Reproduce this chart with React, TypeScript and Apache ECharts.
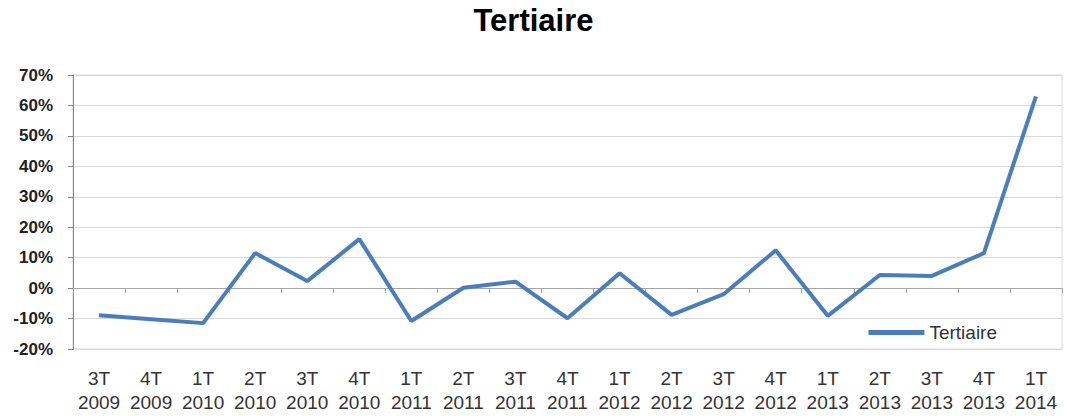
import React, { useEffect, useRef } from "react";
import * as echarts from "echarts";

const categories = [
  "3T\n2009", "4T\n2009", "1T\n2010", "2T\n2010", "3T\n2010", "4T\n2010",
  "1T\n2011", "2T\n2011", "3T\n2011", "4T\n2011", "1T\n2012", "2T\n2012",
  "3T\n2012", "4T\n2012", "1T\n2013", "2T\n2013", "3T\n2013", "4T\n2013", "1T\n2014",
];
const tertiaire = [
  -8.9, -10.2, -11.5, 11.5, 2.3, 16.1, -10.8, 0.1, 2.1, -9.9, 4.9, -8.8,
  -2.0, 12.4, -9.1, 4.3, 4.0, 11.5, 63.0,
];
const seriesName = "Tertiaire";
const titleText = "Tertiaire";

export default function App() {
  const ref = useRef<HTMLDivElement>(null);
  useEffect(() => {
    if (!ref.current) return;
    const chart = echarts.init(ref.current, undefined, { renderer: "svg" });
    chart.setOption({
      animation: false,
      backgroundColor: "#ffffff",
      title: {
        text: titleText,
        left: "center",
        top: 0,
        textStyle: { fontFamily: "Liberation Sans", fontWeight: "bold", fontSize: 31, color: "#000" },
      },
      legend: {
        data: [{ name: seriesName, icon: "rect" }],
        right: 65,
        top: 318,
        itemWidth: 56,
        itemHeight: 5,
        itemGap: 4,
        textStyle: { fontFamily: "Liberation Sans", fontSize: 19, color: "#333" },
      },
      grid: {
        left: 73,
        right: 5,
        top: 75,
        bottom: 67,
        show: true,
        borderColor: "#d9d9d9",
        borderWidth: 1,
      },
      xAxis: [
        {
          type: "category",
          data: categories,
          boundaryGap: true,
          position: "bottom",
          axisLine: { onZero: true, lineStyle: { color: "#a6a6a6", width: 1 } },
          axisTick: { show: true, length: 5, lineStyle: { color: "#a6a6a6" } },
          axisLabel: { show: false },
          splitLine: { show: false },
        },
        {
          type: "category",
          data: categories,
          boundaryGap: true,
          position: "bottom",
          axisLine: { show: false, onZero: false },
          axisTick: { show: false },
          axisLabel: {
            show: true,
            interval: 0,
            margin: 17,
            lineHeight: 24,
            fontFamily: "Liberation Sans",
            fontSize: 19,
            color: "#333",
          },
          splitLine: { show: false },
        },
      ],
      yAxis: {
        type: "value",
        min: -20,
        max: 70,
        interval: 10,
        axisLine: { show: true, lineStyle: { color: "#868686" } },
        axisTick: { show: true, inside: false, length: 5, lineStyle: { color: "#868686" } },
        axisLabel: {
          formatter: "{value}%",
          fontFamily: "Liberation Sans",
          fontWeight: "bold",
          fontSize: 17,
          color: "#222",
          margin: 20,
        },
        splitLine: { show: true, lineStyle: { color: "#d9d9d9", width: 1 } },
      },
      series: [
        {
          name: seriesName,
          type: "line",
          xAxisIndex: 0,
          data: tertiaire,
          symbol: "none",
          lineStyle: { color: "#4a7ebb", width: 4 },
          itemStyle: { color: "#4a7ebb" },
        },
      ],
    });
    return () => chart.dispose();
  }, []);
  return (
    <div
      ref={ref}
      style={{ position: "fixed", left: 0, top: 0, width: 1067, height: 416 }}
    />
  );
}
